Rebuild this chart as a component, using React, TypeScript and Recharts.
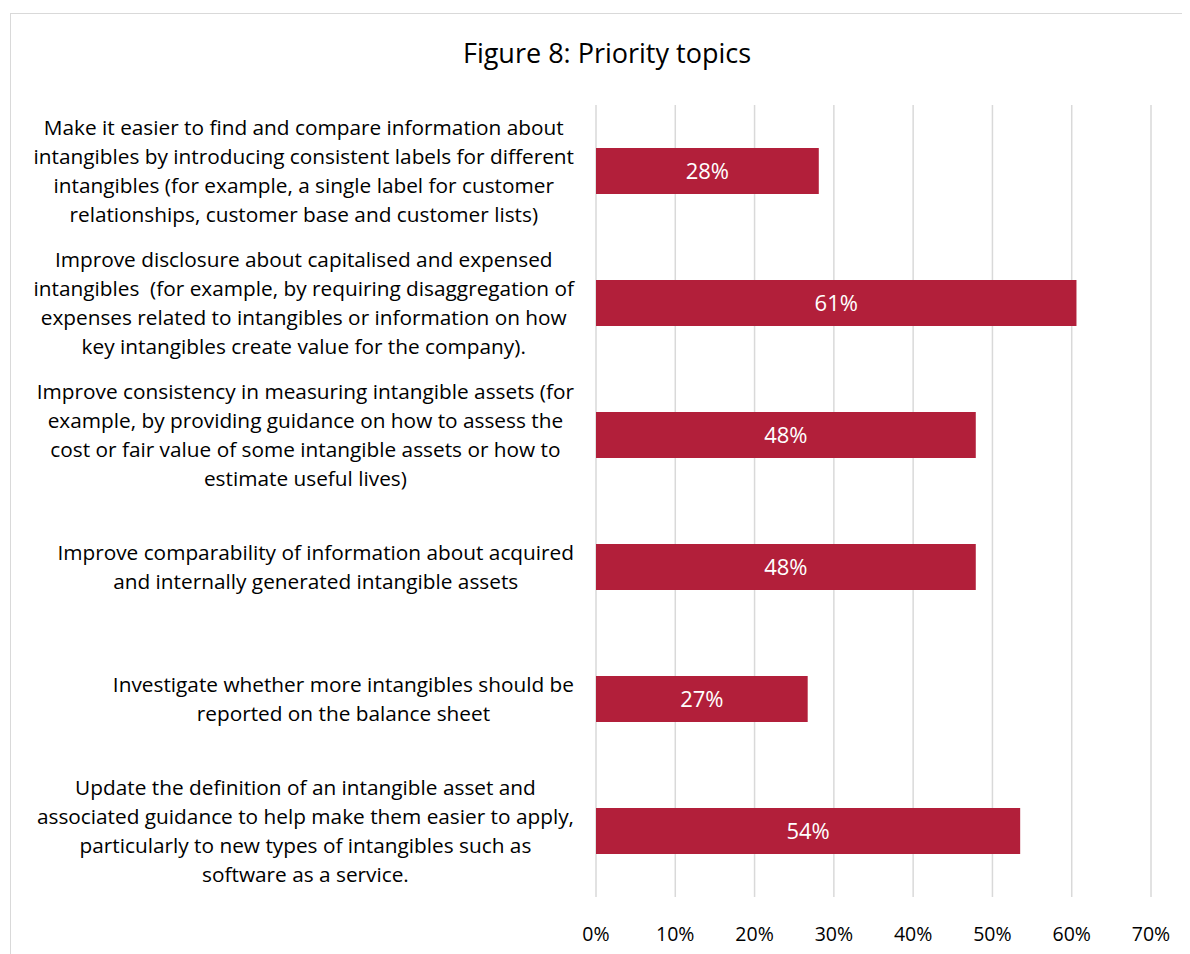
import { BarChart, Bar, XAxis, YAxis, CartesianGrid, LabelList } from "recharts";

const categories = [
  "Make it easier to find and compare information about\nintangibles by introducing consistent labels for different\nintangibles (for example, a single label for customer\nrelationships, customer base and customer lists)",
  "Improve disclosure about capitalised and expensed\nintangibles  (for example, by requiring disaggregation of\nexpenses related to intangibles or information on how\nkey intangibles create value for the company).",
  "Improve consistency in measuring intangible assets (for\nexample, by providing guidance on how to assess the\ncost or fair value of some intangible assets or how to\nestimate useful lives)",
  "Improve comparability of information about acquired\nand internally generated intangible assets",
  "Investigate whether more intangibles should be\nreported on the balance sheet",
  "Update the definition of an intangible asset and\nassociated guidance to help make them easier to apply,\nparticularly to new types of intangibles such as\nsoftware as a service.",
];

const shares = [28.1, 60.6, 47.9, 47.9, 26.7, 53.5];

const xTicks = [0, 10, 20, 30, 40, 50, 60, 70];

const data = categories.map((topic, i) => ({ topic, share: shares[i] }));

const FONT = "'Open Sans', sans-serif";
const LABEL_SIZE = 20.8;
const LINE_H = 29;

let ctx: CanvasRenderingContext2D | null = null;
function measure(s: string) {
  if (!ctx) ctx = document.createElement("canvas").getContext("2d");
  if (!ctx) return s.length * 10;
  ctx.font = `${LABEL_SIZE}px 'Open Sans'`;
  return ctx.measureText(s).width;
}

function TopicTick(props: any) {
  const { x, y, payload } = props;
  const lines: string[] = String(payload.value).split("\n");
  const w = Math.max(...lines.map(measure));
  const cx = x - 14 - w / 2;
  const y0 = y - ((lines.length - 1) * LINE_H) / 2;
  return (
    <text
      x={cx}
      y={y0}
      textAnchor="middle"
      fontFamily={FONT}
      fontSize={LABEL_SIZE}
      fill="#000"
      style={{ whiteSpace: "pre" }}
    >
      {lines.map((l, i) => (
        <tspan key={i} x={cx} y={y0 + i * LINE_H} dy="0.35em">
          {l}
        </tspan>
      ))}
    </text>
  );
}

export default function App() {
  return (
    <div style={{ position: "relative", width: 1182, height: 946, overflow: "hidden", background: "#fff" }}>
      <div
        style={{
          position: "absolute",
          left: 2,
          top: 5,
          width: 1220,
          height: 980,
          border: "1px solid #d9d9d9",
          boxSizing: "border-box",
        }}
      />
      <div
        style={{
          position: "absolute",
          left: 0,
          width: 1198,
          top: 26,
          textAlign: "center",
          fontFamily: FONT,
          fontSize: 27,
          color: "#000",
        }}
      >
        Figure 8: Priority topics
      </div>
      <div style={{ position: "absolute", left: 0, top: 0 }}>
        <BarChart
          width={1182}
          height={946}
          data={data}
          layout="vertical"
          margin={{ top: 97, right: 39, bottom: 17, left: 0 }}
          barCategoryGap={43}
        >
          <CartesianGrid horizontal={false} stroke="#d9d9d9" strokeWidth={1.5} />
          <XAxis
            type="number"
            domain={[0, 70]}
            ticks={xTicks}
            tickFormatter={(v: number) => `${v}%`}
            axisLine={false}
            tickLine={false}
            tickMargin={24}
            height={40}
            tick={{ fill: "#000", fontSize: 19.5, fontFamily: FONT }}
          />
          <YAxis
            type="category"
            dataKey="topic"
            width={588}
            axisLine={false}
            tickLine={false}
            tick={<TopicTick />}
            interval={0}
          />
          <Bar dataKey="share" fill="#B21F3A" barSize={46} isAnimationActive={false}>
            <LabelList
              dataKey="share"
              position="center"
              formatter={(v: any) => `${Math.round(Number(v))}%`}
              fill="#fff"
              fontSize={22}
              fontFamily={FONT}
            />
          </Bar>
        </BarChart>
      </div>
    </div>
  );
}
